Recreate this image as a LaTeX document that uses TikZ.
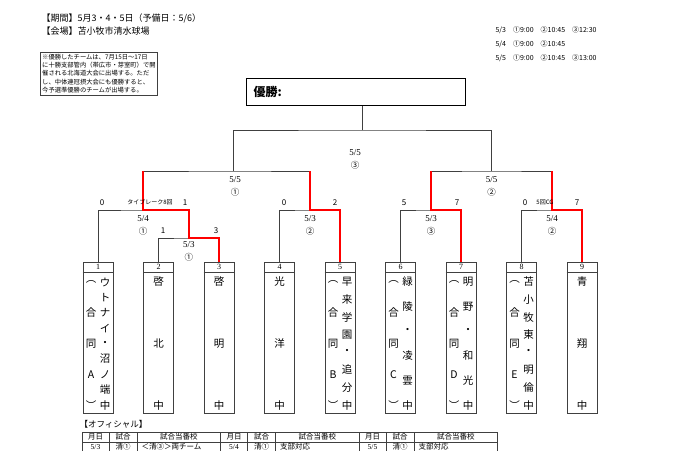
\documentclass[tikz,border=0pt]{standalone}
\usepackage{fontspec}
\setmainfont{Liberation Serif}
\newfontfamily\jp{Noto Sans CJK JP}
\usetikzlibrary{positioning}

\tikzset{
  line/.style={draw=black!75, line width=0.8pt},
  win/.style={draw=red, line width=2pt},
  team/.style={draw=black!75, line width=0.8pt, minimum width=30pt, minimum height=151pt, anchor=north, inner sep=0pt},
  score/.style={font=\jp\fontsize{8}{8}\selectfont, anchor=south},
  date/.style={font=\fontsize{9}{9}\selectfont},
  glyph/.style={font=\jp\fontsize{10.5}{10.5}\selectfont, inner sep=0pt},
}

% vertical column of characters: x, top y, bottom y, count, list
\newcommand\tatecol[5]{%
  \foreach \ch [count=\k] in {#5}
    \node[glyph] at ({#1},{#2+(\k-1)*(#3-#2)/(#4-1)}) {\ch};}

\begin{document}
\begin{tikzpicture}[x=1pt,y=-1pt]
  \useasboundingbox (0,0) rectangle (680,450);

  % Kopfzeilen
  \node[anchor=west, font=\jp\fontsize{9}{9}\selectfont] (period) at (38,18) {【期間】5月3・4・5日（予備日：5/6）};
  \node[anchor=west, font=\jp\fontsize{9}{9}\selectfont] (venue) at (38,31) {【会場】苫小牧市清水球場};
  \node[draw=black!75, anchor=north west, inner sep=2pt, align=left,
        font=\jp\fontsize{6.3}{8.2}\selectfont] (note) at (40,52)
    {※優勝したチームは、7月15日～17日\\に十勝支部管内（帯広市・芽室町）で開\\催される北海道大会に出場する。ただ\\し、中体連冠摂大会にも優勝すると、\\今予選準優勝のチームが出場する。};
  \foreach \d/\t [count=\r] in {{5/3}/{①9:00\quad ②10:45\quad ③12:30},
                                {5/4}/{①9:00\quad ②10:45},
                                {5/5}/{①9:00\quad ②10:45\quad ③13:00}}
    \node[anchor=west, font=\jp\fontsize{7}{7}\selectfont] (time\r) at (492,{16+14*\r}) {\d\quad\t};

  % 優勝
  \node[draw=black, line width=0.8pt, minimum width=219pt, minimum height=27pt, anchor=north west] (champ) at (246,78) {};
  \node[anchor=west, font=\jp\bfseries\fontsize{12}{12}\selectfont] (champtext) at (250,91.5) {優勝:};

  % Mannschaften
  \foreach \i in {1,...,9} {
    \node[team] (t\i) at ({98+60.5*(\i-1)},262) {};
    \draw[line] ([yshift=-10pt]t\i.north west) -- ([yshift=-10pt]t\i.north east);
    \node[font=\fontsize{8}{8}\selectfont] (n\i) at ({98+60.5*(\i-1)},267) {\i};
  }
  \tatecol{91}{282}{405}{5}{︵,合,同,A,︶}
  \tatecol{105}{282}{405}{9}{ウ,ト,ナ,イ,・,沼,ノ,端,中}
  \tatecol{158.5}{282}{405}{3}{啓,北,中}
  \tatecol{219}{282}{405}{3}{啓,明,中}
  \tatecol{279.5}{282}{405}{3}{光,洋,中}
  \tatecol{333}{282}{405}{5}{︵,合,同,B,︶}
  \tatecol{347}{282}{405}{8}{早,来,学,園,・,追,分,中}
  \tatecol{393.5}{282}{405}{5}{︵,合,同,C,︶}
  \tatecol{407.5}{282}{405}{6}{緑,陵,・,凌,雲,中}
  \tatecol{454}{282}{405}{5}{︵,合,同,D,︶}
  \tatecol{468}{282}{405}{6}{明,野,・,和,光,中}
  \tatecol{514.5}{282}{405}{5}{︵,合,同,E,︶}
  \tatecol{528.5}{282}{405}{8}{苫,小,牧,東,・,明,倫,中}
  \tatecol{582}{282}{405}{3}{青,翔,中}

  % Turnierbaum
  \coordinate (m1) at (188.75,238);
  \coordinate (m2) at (143,210);
  \coordinate (m3) at (310,210);
  \coordinate (m4) at (431,210);
  \coordinate (m5) at (552,210);
  \coordinate (s1) at (233,171);
  \coordinate (s2) at (491.5,171);
  \coordinate (fin) at (362,130);

  \draw[line] (t2.north) |- (m1) -| (t3.north);
  \draw[line] (t1.north) |- (m2) -| (m1);
  \draw[line] (t4.north) |- (m3) -| (t5.north);
  \draw[line] (t6.north) |- (m4) -| (t7.north);
  \draw[line] (t8.north) |- (m5) -| (t9.north);
  \draw[line] (m2) |- (s1) -| (m3);
  \draw[line] (m4) |- (s2) -| (m5);
  \draw[line] (s1) |- (fin) -| (s2);
  \draw[line] (fin) -- (fin |- champ.south);

  \draw[win] (t3.north) |- (m1) |- (m2) -- (m2 |- s1);
  \draw[win] (t5.north) |- (m3) -- (m3 |- s1);
  \draw[win] (t7.north) |- (m4) -- (m4 |- s2);
  \draw[win] (t9.north) |- (m5) -- (m5 |- s2);

  % Ergebnisse
  \node[score] at (163,237) {1};
  \node[score] at (216,237) {3};
  \node[score] at (102,209) {0};
  \node[score, font=\jp\fontsize{6}{6}\selectfont] at (150,209) {タイブレーク8回};
  \node[score] at (185,209) {1};
  \node[score] at (284,209) {0};
  \node[score] at (335,209) {2};
  \node[score] at (404,209) {5};
  \node[score] at (457,209) {7};
  \node[score] at (525,209) {0};
  \node[score, font=\jp\fontsize{6}{6}\selectfont] at (545,209) {5回CG};
  \node[score] at (577,209) {7};

  % Termine
  \foreach \x/\y/\d/\c in {188.75/245/{5/3}/①, 143/219/{5/4}/①, 310/219/{5/3}/②,
                           431/219/{5/3}/③, 552/219/{5/4}/②,
                           235/180/{5/5}/①, 491.5/180/{5/5}/②, 355/153/{5/5}/③} {
    \node[date] at (\x,\y) {\d};
    \node[date, font=\jp\fontsize{8.5}{8.5}\selectfont] at (\x,{\y+12.5}) {\c};
  }

  % Offizielle
  \node[anchor=west, font=\jp\fontsize{8.5}{8.5}\selectfont] (official) at (76,424) {【オフィシャル】};
  \foreach \g/\dd/\tx in {0/{5/3}/＜清③＞両チーム, 1/{5/4}/支部対応, 2/{5/5}/支部対応} {
    \begin{scope}[xshift={138.5*\g}]
      \draw[line, line width=0.6pt] (82,432) rectangle (220.5,452);
      \draw[line, line width=0.6pt] (82,442) -- (220.5,442);
      \draw[line, line width=0.6pt] (109,432) -- (109,452);
      \draw[line, line width=0.6pt] (137,432) -- (137,452);
      \node[font=\jp\fontsize{7.5}{7.5}\selectfont] at (95.5,437) {月日};
      \node[font=\jp\fontsize{7.5}{7.5}\selectfont] at (123,437) {試合};
      \node[font=\jp\fontsize{7.5}{7.5}\selectfont] at (178.75,437) {試合当番校};
      \node[font=\fontsize{7.5}{7.5}\selectfont] at (95.5,447) {\dd};
      \node[font=\jp\fontsize{7.5}{7.5}\selectfont] at (123,447) {清①};
      \node[anchor=west, font=\jp\fontsize{7.5}{7.5}\selectfont] at (138,447) {\tx};
    \end{scope}
  }
\end{tikzpicture}
\end{document}
